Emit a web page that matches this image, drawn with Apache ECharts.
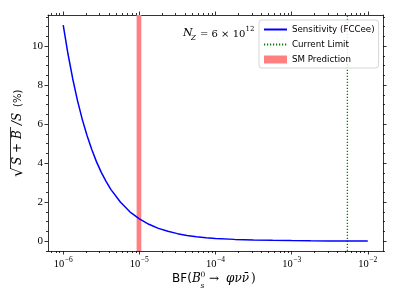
<!DOCTYPE html>
<html>
<head>
<meta charset="utf-8">
<script src="https://cdn.jsdelivr.net/npm/echarts@6/dist/echarts.min.js"></script>
<style>html,body{margin:0;padding:0;background:#fff;}#c{width:399px;height:299px;}</style>
</head>
<body>
<div id="c"></div>
<script>
// ---- data ----
const bfValues = [1e-6, 1.155e-6, 1.334e-6, 1.54e-6, 1.778e-6, 2.054e-6, 2.371e-6, 2.738e-6, 3.162e-6, 3.652e-6, 4.217e-6, 5.623e-6, 7.499e-6, 1e-5, 1.334e-5, 1.778e-5, 2.371e-5, 3.162e-5, 4.217e-5, 5.623e-5, 7.499e-5, 1e-4, 1.778e-4, 3.162e-4, 5.623e-4, 1e-3, 1.778e-3, 3.162e-3, 5.623e-3, 1e-2];
const sensitivity = [11.08, 9.60, 8.32, 7.21, 6.25, 5.42, 4.70, 4.07, 3.53, 3.07, 2.66, 2.01, 1.51, 1.15, 0.87, 0.66, 0.51, 0.39, 0.30, 0.235, 0.185, 0.147, 0.096, 0.065, 0.045, 0.033, 0.024, 0.018, 0.013, 0.010];
const smBand = [9.2e-6, 1.06e-5];
const currentLimit = 5.4e-3;
const seriesNames = ['Sensitivity (FCCee)', 'Current Limit', 'SM Prediction'];
const xMajorTicks = [1e-6, 1e-5, 1e-4, 1e-3, 1e-2];
const yMajorTicks = [0, 2, 4, 6, 8, 10];
const xMin = Math.pow(10, -6.2), xMax = Math.pow(10, -1.8);
const yMin = -0.5, yMax = 11.6;

const xMinorTicks = [];
for (let e = -7; e <= -2; e++) for (let k = 2; k <= 9; k++) {
  const v = k * Math.pow(10, e);
  if (v >= xMin && v <= xMax) xMinorTicks.push(v);
}
const yMinorTicks = [];
for (let v = -0.5; v <= yMax; v += 0.5) if (Math.abs(v / 2 - Math.round(v / 2)) > 1e-9) yMinorTicks.push(+v.toFixed(2));

const chart = echarts.init(document.getElementById('c'), null, {renderer: 'canvas'});
const axisColor = '#000';
const tickFont = 'Liberation Serif';
const sans = 'DejaVu Sans';

function xAxisDef(pos, ticks, len, showLine, showLabel) {
  return {
    type: 'log', logBase: 10, min: xMin, max: xMax, position: pos,
    axisLine: {show: showLine, onZero: false, lineStyle: {color: axisColor, width: 0.8}},
    axisTick: {show: true, inside: false, length: len, customValues: ticks, lineStyle: {color: axisColor, width: 0.8}},
    axisLabel: showLabel ? {
      show: true, customValues: ticks, margin: 5,
      formatter: v => '{b|10}{s|−' + Math.abs(Math.round(Math.log10(v))) + '}',
      rich: {b: {fontFamily: tickFont, fontSize: 10.5, color: '#000', lineHeight: 14, verticalAlign: 'bottom'},
             s: {fontFamily: tickFont, fontSize: 7.5, color: '#000', lineHeight: 14, verticalAlign: 'top', padding: [0, 0, 6, 0.5]}}
    } : {show: false},
    splitLine: {show: false}, minorTick: {show: false}, minorSplitLine: {show: false}
  };
}
function yAxisDef(pos, ticks, len, showLine, showLabel) {
  return {
    type: 'value', min: yMin, max: yMax, position: pos,
    axisLine: {show: showLine, onZero: false, lineStyle: {color: axisColor, width: 0.8}},
    axisTick: {show: true, inside: false, length: len, customValues: ticks, lineStyle: {color: axisColor, width: 0.8}},
    axisLabel: showLabel ? {show: true, customValues: ticks, margin: 5, fontFamily: tickFont, fontSize: 11, color: '#000'} : {show: false},
    splitLine: {show: false}
  };
}

const option = {
  animation: false,
  backgroundColor: '#fff',
  grid: {left: 48, right: 16, top: 15, bottom: 48, containLabel: false},
  xAxis: [
    xAxisDef('bottom', xMajorTicks, 3.5, true, true),
    xAxisDef('bottom', xMinorTicks, 2, false, false),
    xAxisDef('top', xMajorTicks, 3.5, true, false),
    xAxisDef('top', xMinorTicks, 2, false, false)
  ],
  yAxis: [
    yAxisDef('left', yMajorTicks, 3.5, true, true),
    yAxisDef('left', yMinorTicks, 2, false, false),
    yAxisDef('right', yMajorTicks, 3.5, true, false),
    yAxisDef('right', yMinorTicks, 2, false, false)
  ],
  legend: {
    left: 259, top: 20, orient: 'vertical',
    padding: [5, 4, 4, 4], itemGap: 6, itemWidth: 23, itemHeight: 8,
    backgroundColor: 'rgba(255,255,255,0.85)', borderColor: '#cccccc', borderWidth: 0.8, borderRadius: 3,
    textStyle: {fontFamily: sans, fontSize: 8.7, color: '#000'},
    data: [
      {name: seriesNames[0], itemStyle: {opacity: 0}},
      {name: seriesNames[1], itemStyle: {opacity: 0}},
      {name: seriesNames[2], icon: 'rect', itemStyle: {color: '#ff8080', borderWidth: 0}}
    ]
  },
  series: [
    {
      name: seriesNames[2], type: 'line', data: [], xAxisIndex: 0, yAxisIndex: 0,
      symbol: 'none', itemStyle: {color: '#ff8080'}, lineStyle: {color: '#ff8080'}, z: 1,
      markArea: {silent: true, itemStyle: {color: '#ff8080', opacity: 1}, data: [[{xAxis: smBand[0]}, {xAxis: smBand[1]}]]}
    },
    {
      name: seriesNames[0], type: 'line', xAxisIndex: 0, yAxisIndex: 0, z: 3,
      data: bfValues.map((b, i) => [b, sensitivity[i]]),
      showSymbol: false, symbol: 'none', smooth: false,
      lineStyle: {color: '#0000ff', width: 1.5}, itemStyle: {color: '#0000ff'}
    },
    {
      name: seriesNames[1], type: 'line', xAxisIndex: 0, yAxisIndex: 0, z: 2,
      data: [[currentLimit, yMin], [currentLimit, yMax]],
      symbol: 'none', showSymbol: false,
      lineStyle: {color: '#008000', width: 1.3, type: [1.2, 1.8]}, itemStyle: {color: '#008000'}
    }
  ],
  graphic: [
    // N_Z annotation
    {type: 'text', x: 183, y: 28, style: {text: 'N', font: 'italic 11px "DejaVu Serif"', fill: '#000'}},
    {type: 'text', x: 191, y: 35, style: {text: 'Z', font: 'italic 7px "DejaVu Serif"', fill: '#000'}},
    {type: 'text', x: 200, y: 29, style: {text: '= 6 × 10', font: '10px "DejaVu Serif"', fill: '#000'}},
    {type: 'text', x: 245.5, y: 26, style: {text: '12', font: '7px "DejaVu Serif"', fill: '#000'}},
    // x axis title
    {type: 'text', x: 172, y: 273, style: {text: 'BF(', font: '12px "DejaVu Sans"', fill: '#000'}},
    {type: 'text', x: 192, y: 273, style: {text: 'B', font: 'italic 12px "DejaVu Serif"', fill: '#000'}},
    {type: 'text', x: 200.5, y: 282, style: {text: 's', font: 'italic 7.5px "DejaVu Serif"', fill: '#000'}},
    {type: 'text', x: 200.5, y: 271, style: {text: '0', font: '7.5px "DejaVu Serif"', fill: '#000'}},
    {type: 'text', x: 209, y: 273, style: {text: '→', font: '12px "DejaVu Serif"', fill: '#000'}},
    {type: 'text', x: 226, y: 273, style: {text: 'φνν\u0304', font: 'italic 12px "DejaVu Serif"', fill: '#000'}},
    {type: 'text', x: 251, y: 273, style: {text: ')', font: '12px "DejaVu Serif"', fill: '#000'}},
    // y axis title (rotated)
    {type: 'group', x: 18, y: 133, rotation: Math.PI / 2, children: [
      {type: 'text', x: -44, y: 0.5, style: {text: '√', font: '15px "DejaVu Serif"', fill: '#000', verticalAlign: 'middle'}},
      {type: 'line', shape: {x1: -35.5, y1: -7.5, x2: 6, y2: -7.5}, style: {stroke: '#000', lineWidth: 0.8}},
      {type: 'text', x: -32, y: 0, style: {text: 'S + B', font: 'italic 12px "DejaVu Serif"', fill: '#000', verticalAlign: 'middle'}},
      {type: 'text', x: 8, y: 0, style: {text: '/S', font: 'italic 12px "DejaVu Serif"', fill: '#000', verticalAlign: 'middle'}},
      {type: 'text', x: 26, y: 0, style: {text: '(%)', font: '10px "DejaVu Sans"', fill: '#000', verticalAlign: 'middle'}}
    ]}
  ]
};
chart.setOption(option);
</script>
</body>
</html>
